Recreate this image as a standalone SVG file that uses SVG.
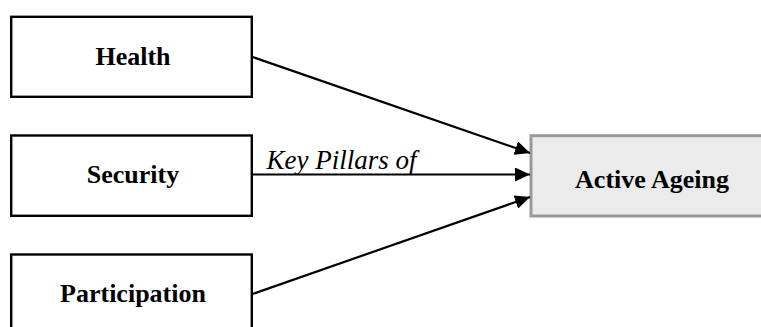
<svg xmlns="http://www.w3.org/2000/svg" width="761" height="327" viewBox="0 0 761 327">
  <style>
    .box { fill: #ffffff; stroke: #000000; stroke-width: 2.4; }
    .goal { fill: #ebebeb; stroke: #999999; stroke-width: 3; }
    .label { font-family: "Liberation Serif", "Times New Roman", serif; font-weight: bold; font-size: 26px; fill: #000000; text-anchor: middle; }
    .edge { stroke: #000000; stroke-width: 2.2; fill: none; marker-end: url(#arrow); }
    .edge-label { font-family: "Liberation Serif", "Times New Roman", serif; font-style: italic; font-size: 27px; fill: #000000; }
  </style>
  <defs>
    <marker id="arrow" markerUnits="userSpaceOnUse" markerWidth="16" markerHeight="14" refX="15" refY="7" orient="auto">
      <path d="M0,0 L15,7 L0,14 z" fill="#000000"/>
    </marker>
  </defs>
  <rect width="761" height="327" fill="#ffffff"/>

  <g id="health">
    <rect class="box" x="11.2" y="16.8" width="240.6" height="80"/>
    <text class="label" x="133" y="65">Health</text>
  </g>

  <g id="security">
    <rect class="box" x="11.2" y="135.5" width="240.6" height="80.3"/>
    <text class="label" x="133" y="183">Security</text>
  </g>

  <g id="participation">
    <rect class="box" x="11.2" y="254.5" width="240.6" height="90"/>
    <text class="label" x="133" y="301.5">Participation</text>
  </g>

  <g id="active-ageing">
    <rect class="goal" x="531" y="135.7" width="240" height="80.3"/>
    <text class="label" x="652" y="187.7">Active Ageing</text>
  </g>

  <g id="connectors">
    <path class="edge" d="M252.5,57 L530,153"/>
    <path class="edge" d="M252.5,174.5 L530,174.5"/>
    <path class="edge" d="M252.5,294 L530,197"/>
    <text class="edge-label" x="266.5" y="169.3">Key Pillars of</text>
  </g>
</svg>
